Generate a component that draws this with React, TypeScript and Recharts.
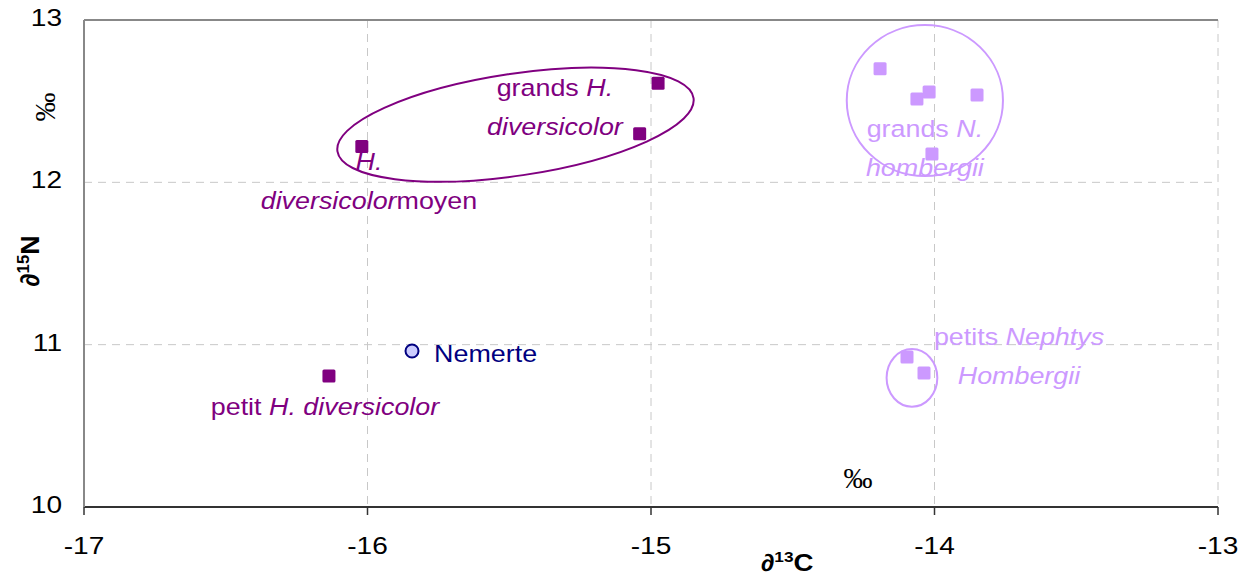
import React from 'react';
import {
  ScatterChart,
  Scatter,
  XAxis,
  YAxis,
  CartesianGrid,
  ReferenceArea,
  ReferenceDot,
  ReferenceLine,
} from 'recharts';

// δ13C / δ15N per group (‰)
const hDiversicolor = [
  { x: -15.04, y: 12.3 },
  { x: -14.975, y: 12.61 },
  { x: -16.02, y: 12.22 },
  { x: -16.136, y: 10.807 },
];

const nephtys = [
  { x: -14.192, y: 12.7 },
  { x: -14.062, y: 12.513 },
  { x: -14.019, y: 12.556 },
  { x: -13.85, y: 12.538 },
  { x: -14.009, y: 12.175 },
  { x: -14.097, y: 10.924 },
  { x: -14.037, y: 10.825 },
];

const nemerte = [{ x: -15.843, y: 10.961 }];

const xTicks = [-17, -16, -15, -14, -13];
const yTicks = [10, 11, 12, 13];

const DARK = '#800080';
const LIGHT = '#cc99ff';
const NAVY = '#000080';
const FONT = '"Liberation Sans", Arial, sans-serif';
const SERIF = '"Liberation Serif", "Times New Roman", serif';

// group outlines, in data units
const ellipses = [
  { cx: -15.478, cy: 12.355, rx: 0.635, ry: 0.314, rot: -8.5, color: DARK },
  { cx: -14.034, cy: 12.504, rx: 0.2755, ry: 0.465, rot: 0, color: LIGHT },
  { cx: -14.0795, cy: 10.7955, rx: 0.0895, ry: 0.1775, rot: 0, color: LIGHT },
];

type Seg = { t: string; i?: boolean };
const labels: { x: number; y: number; anchor: 'middle' | 'start'; color: string; lines: Seg[][] }[] = [
  {
    x: -15.339, y: 12.532, anchor: 'middle', color: DARK,
    lines: [[{ t: 'grands ' }, { t: 'H.', i: true }], [{ t: 'diversicolor', i: true }]],
  },
  {
    x: -15.995, y: 12.076, anchor: 'middle', color: DARK,
    lines: [[{ t: 'H.', i: true }], [{ t: 'diversicolor', i: true }, { t: 'moyen' }]],
  },
  {
    x: -14.034, y: 12.279, anchor: 'middle', color: LIGHT,
    lines: [[{ t: 'grands ' }, { t: 'N.', i: true }], [{ t: 'hombergii', i: true }]],
  },
  {
    x: -13.702, y: 10.998, anchor: 'middle', color: LIGHT,
    lines: [[{ t: 'petits ' }, { t: 'Nephtys', i: true }], [{ t: 'Hombergii', i: true }]],
  },
  { x: -15.765, y: 10.893, anchor: 'start', color: NAVY, lines: [[{ t: 'Nemerte' }]] },
  {
    x: -16.15, y: 10.567, anchor: 'middle', color: DARK,
    lines: [[{ t: 'petit ' }, { t: 'H. diversicolor', i: true }]],
  },
];

const Square = (color: string) => (p: any) => (
  <rect x={p.cx - 6.5} y={p.cy - 6.5} width={13} height={13} rx={1.5} fill={color} />
);

const Dot = (p: any) => (
  <circle cx={p.cx} cy={p.cy} r={6.5} fill="#ccccff" stroke={NAVY} strokeWidth={2} />
);

// tick text, a little wider than the plain font
function XTick({ x, y, payload }: any) {
  return (
    <text
      transform={`translate(${x}, ${y + 21}) scale(1.17, 1)`}
      textAnchor="middle"
      fontFamily={FONT}
      fontSize={24}
      fill="#000"
    >
      {payload.value}
    </text>
  );
}

function YTick({ x, y, payload }: any) {
  return (
    <text
      transform={`translate(${x}, ${y + 6}) scale(1.17, 1)`}
      textAnchor="end"
      fontFamily={FONT}
      fontSize={24}
      fill="#000"
    >
      {payload.value}
    </text>
  );
}

function XLabel({ viewBox }: any) {
  const x = viewBox.x + viewBox.width * 0.62;
  const y = viewBox.y + 64;
  return (
    <text
      transform={`translate(${x}, ${y}) scale(1.15, 1)`}
      textAnchor="middle"
      fontFamily={FONT}
      fontWeight="bold"
      fontSize={24}
      fill="#000"
    >
      ∂<tspan dy={-9} fontSize={15}>13</tspan>
      <tspan dy={9}>C</tspan>
    </text>
  );
}

function YLabel({ viewBox }: any) {
  const x = viewBox.x;
  return (
    <g>
      <text
        transform={`translate(${x + 15}, 261) rotate(-90) scale(1.12, 1.1)`}
        textAnchor="middle"
        fontFamily={FONT}
        fontWeight="bold"
        fontSize={24}
        fill="#000"
      >
        ∂<tspan dy={-9} fontSize={15}>15</tspan>
        <tspan dy={9}>N</tspan>
      </text>
      <text
        transform={`translate(${x + 31}, 107) rotate(-90)`}
        textAnchor="middle"
        fontFamily={SERIF}
        fontSize={29}
        fill="#000"
      >
        ‰
      </text>
    </g>
  );
}

export default function App() {
  return (
    <div style={{ width: 1250, height: 581 }}>
      <style>{'body{margin:0}'}</style>
      <ScatterChart width={1250} height={581} margin={{ top: 20, right: 32, bottom: 24, left: 24 }}>
        <CartesianGrid stroke="#c8c8c8" strokeDasharray="8 6" />
        <XAxis
          type="number"
          dataKey="x"
          domain={[-17, -13]}
          ticks={xTicks}
          allowDataOverflow
          height={50}
          tickSize={8}
          tickMargin={18}
          axisLine={{ stroke: '#333', strokeWidth: 2 }}
          tickLine={{ stroke: '#333', strokeWidth: 1.5 }}
          tick={<XTick />}
          label={<XLabel />}
        />
        <YAxis
          type="number"
          dataKey="y"
          domain={[10, 13]}
          ticks={yTicks}
          allowDataOverflow
          width={60}
          tickLine={false}
          tickSize={0}
          tickMargin={22}
          axisLine={{ stroke: '#888', strokeWidth: 2 }}
          tick={<YTick />}
          label={<YLabel />}
        />
        <YAxis
          yAxisId="r"
          orientation="right"
          type="number"
          domain={[10, 13]}
          ticks={yTicks}
          width={0}
          mirror
          tickSize={8}
          tickFormatter={() => ''}
          axisLine={{ stroke: '#333', strokeWidth: 2 }}
          tickLine={{ stroke: '#333', strokeWidth: 1.5 }}
        />
        <ReferenceLine y={13} stroke="#888" strokeWidth={2} />
        {ellipses.map((e, i) => (
          <ReferenceArea
            key={`el-${i}`}
            x1={e.cx - e.rx}
            x2={e.cx + e.rx}
            y1={e.cy - e.ry}
            y2={e.cy + e.ry}
            ifOverflow="visible"
            shape={(p: any) => {
              const cx = p.x + p.width / 2;
              const cy = p.y + p.height / 2;
              return (
                <ellipse
                  cx={cx}
                  cy={cy}
                  rx={Math.abs(p.width) / 2}
                  ry={Math.abs(p.height) / 2}
                  transform={`rotate(${e.rot}, ${cx}, ${cy})`}
                  fill="none"
                  stroke={e.color}
                  strokeWidth={2}
                />
              );
            }}
          />
        ))}
        <Scatter data={hDiversicolor} shape={Square(DARK)} isAnimationActive={false} />
        <Scatter data={nephtys} shape={Square(LIGHT)} isAnimationActive={false} />
        <Scatter data={nemerte} shape={Dot} isAnimationActive={false} />
        {labels.map((l, i) => (
          <ReferenceDot
            key={`lb-${i}`}
            x={l.x}
            y={l.y}
            ifOverflow="visible"
            shape={(p: any) => (
              <text
                transform={`translate(${p.cx}, ${p.cy}) scale(1.12, 1.02)`}
                textAnchor={l.anchor}
                fontFamily={FONT}
                fontSize={24}
                fill={l.color}
              >
                {l.lines.map((line, j) => (
                  <tspan key={j} x={0} dy={j === 0 ? 0 : 38.3}>
                    {line.map((s, k) => (
                      <tspan key={k} fontStyle={s.i ? 'italic' : 'normal'}>
                        {s.t}
                      </tspan>
                    ))}
                  </tspan>
                ))}
              </text>
            )}
          />
        ))}
        <ReferenceDot
          x={-14.27}
          y={10.129}
          ifOverflow="visible"
          shape={(p: any) => (
            <text x={p.cx} y={p.cy + 2} textAnchor="middle" fontFamily={SERIF} fontSize={29} fill="#000">
              ‰
            </text>
          )}
        />
      </ScatterChart>
    </div>
  );
}
